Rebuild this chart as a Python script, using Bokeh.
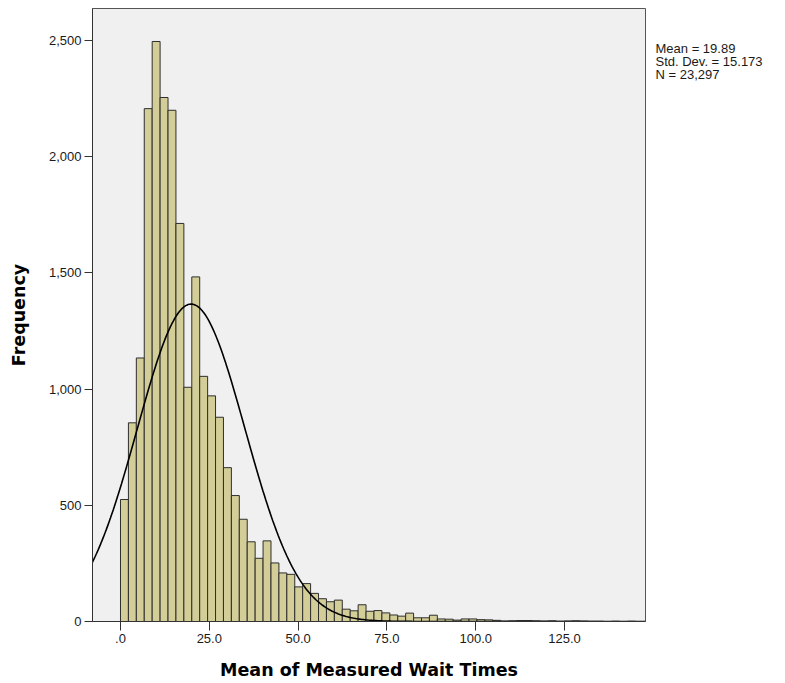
import numpy as np
from bokeh.plotting import figure
from bokeh.models import Range1d, FixedTicker
from bokeh.layouts import row
from bokeh.core.properties import value
from bokeh.embed import file_html
from bokeh.resources import INLINE

# ---- data ----
bin_width = 2.23
bin_start = 0.0
counts = [525, 855, 1134, 2207, 2496, 2255, 2200, 1713, 1008, 1483,
          1055, 971, 879, 662, 542, 440, 343, 272, 347, 252,
          209, 203, 149, 163, 121, 98, 85, 92, 53, 46,
          72, 44, 47, 37, 28, 23, 36, 16, 16, 27,
          11, 10, 6, 11, 11, 8, 7, 5, 2, 3,
          4, 4, 3, 2, 3, 1, 2, 3, 2, 1,
          1, 0, 1, 0, 1]
stat_mean = 19.89
stat_sd = 15.173
stat_n = 23297
stats_lines = ["Mean = 19.89", "Std. Dev. = 15.173", "N = 23,297"]
x_ticks = [0, 25, 50, 75, 100, 125]
x_tick_labels = [".0", "25.0", "50.0", "75.0", "100.0", "125.0"]
y_ticks = [0, 500, 1000, 1500, 2000, 2500]
y_tick_labels = ["0", "500", "1,000", "1,500", "2,000", "2,500"]

lefts = [bin_start + i * bin_width for i in range(len(counts))]
rights = [l + bin_width for l in lefts]

x0, x1 = -7.88, 147.8
y0, y1 = 0, 2638

p = figure(width=646, height=683, output_backend="svg", toolbar_location=None,
           x_range=Range1d(x0, x1), y_range=Range1d(y0, y1),
           min_border_left=92, min_border_right=1, min_border_top=8, min_border_bottom=62)
p.background_fill_color = "#F0F0F0"
p.border_fill_color = "white"
p.outline_line_color = "#555555"
p.outline_line_width = 1
p.xgrid.visible = False
p.ygrid.visible = False

p.quad(left=lefts, right=rights, bottom=0, top=counts,
       fill_color="#D3CE97", line_color="#2E2E2E", line_width=1)

# fitted normal curve from the printed statistics
xs = np.linspace(x0, x1, 400)
ys = stat_n * bin_width / (stat_sd * np.sqrt(2 * np.pi)) * np.exp(-0.5 * ((xs - stat_mean) / stat_sd) ** 2)
p.line(xs, ys, line_color="black", line_width=1.6)

for ax in (p.xaxis[0], p.yaxis[0]):
    ax.axis_line_color = "#333333"
    ax.major_tick_line_color = "#333333"
    ax.minor_tick_line_color = None
    ax.major_tick_in = 0
    ax.major_label_text_font = "Liberation Sans"
    ax.major_label_text_font_size = "13px"
    ax.major_label_text_color = "#1a1a1a"
    ax.axis_label_text_font = "DejaVu Sans"
    ax.axis_label_text_font_size = "17.5px"
    ax.axis_label_text_font_style = "bold"
    ax.axis_label_text_color = "black"

p.xaxis.ticker = FixedTicker(ticks=x_ticks)
p.xaxis.major_label_overrides = {t: l for t, l in zip(x_ticks, x_tick_labels)}
p.yaxis.ticker = FixedTicker(ticks=y_ticks)
p.yaxis.major_label_overrides = {t: l for t, l in zip(y_ticks, y_tick_labels)}
p.xaxis.major_tick_out = 9
p.yaxis.major_tick_out = 8
p.xaxis.major_label_standoff = 3
p.yaxis.major_label_standoff = 3
p.xaxis.axis_label = "Mean of Measured Wait Times"
p.yaxis.axis_label = "Frequency"
p.xaxis.axis_label_standoff = 14
p.yaxis.axis_label_standoff = 17

# statistics panel to the right of the chart (pixel coordinates)
q = figure(width=139, height=683, output_backend="svg", toolbar_location=None,
           x_range=Range1d(0, 139), y_range=Range1d(683, 0),
           x_axis_location=None, y_axis_location=None,
           min_border=0)
q.outline_line_color = None
q.background_fill_color = "white"
q.border_fill_color = "white"
q.xgrid.visible = False
q.ygrid.visible = False
q.text(x=[9, 9, 9], y=[45, 59, 73], text=stats_lines,
       text_font=value("Liberation Sans"), text_font_size="13px",
       text_baseline="middle", text_align="left", text_color="#1a1a1a")

layout = row(p, q, spacing=0)
open("out.html", "w").write(file_html(layout, INLINE))
